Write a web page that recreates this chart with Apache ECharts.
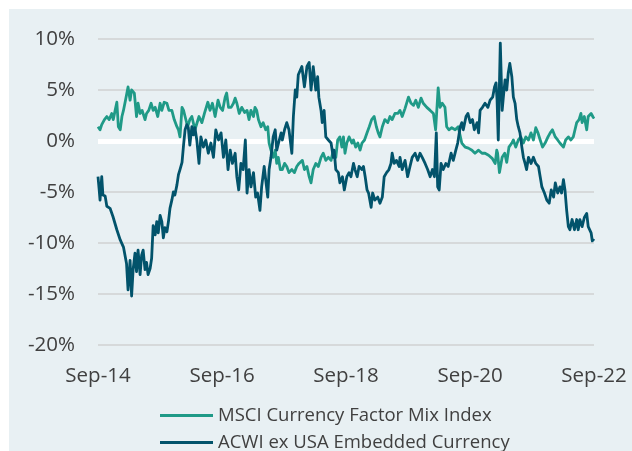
<!DOCTYPE html>
<html>
<head>
<meta charset="utf-8">
<script src="https://cdn.jsdelivr.net/npm/echarts@6/dist/echarts.min.js"></script>
<style>
  html, body { margin: 0; padding: 0; background: #ffffff; }
  #panel { position: absolute; left: 9px; top: 9px; width: 623px; height: 442px; background: #e8f0f3; }
  #chart { position: absolute; left: 0; top: 0; width: 632px; height: 451px; }
</style>
</head>
<body>
<div id="panel"></div>
<div id="chart"></div>
<script>
// Series names shown in the legend
const seriesNames = ['MSCI Currency Factor Mix Index', 'ACWI ex USA Embedded Currency'];

// Cumulative relative performance, % — [date, value]
const factorMix = [
  ['2014-09-30', 1.4], ['2014-10-12', 1.1], ['2014-10-22', 1.6], ['2014-11-07', 2.1], ['2014-11-21', 2.4],
  ['2014-12-05', 2.1], ['2014-12-20', 2.7], ['2014-12-29', 2.1], ['2015-01-09', 3.0], ['2015-01-19', 3.8],
  ['2015-01-28', 1.4], ['2015-02-08', 1.1], ['2015-02-18', 2.4], ['2015-02-27', 3.0], ['2015-03-11', 4.0],
  ['2015-03-26', 5.3], ['2015-04-07', 4.0], ['2015-04-16', 5.0], ['2015-05-02', 4.7], ['2015-05-15', 2.4],
  ['2015-05-24', 3.7], ['2015-06-05', 2.7], ['2015-06-17', 3.0], ['2015-07-04', 2.1], ['2015-07-13', 2.7],
  ['2015-07-26', 3.0], ['2015-08-09', 3.7], ['2015-08-21', 3.0], ['2015-09-02', 3.3], ['2015-09-17', 2.4],
  ['2015-10-01', 3.7], ['2015-10-11', 3.0], ['2015-10-25', 3.8], ['2015-11-10', 3.7], ['2015-11-22', 3.0],
  ['2015-12-09', 3.0], ['2015-12-23', 2.1], ['2016-01-08', 1.4], ['2016-01-17', 1.1], ['2016-01-26', 0.4],
  ['2016-02-07', 3.3], ['2016-02-16', 3.0], ['2016-02-25', 2.4], ['2016-03-11', 1.4], ['2016-03-24', 2.1],
  ['2016-04-05', 2.4], ['2016-04-23', 1.1], ['2016-05-17', 2.4], ['2016-06-03', 1.8], ['2016-06-18', 2.7],
  ['2016-07-08', 3.8], ['2016-07-21', 3.0], ['2016-08-04', 3.7], ['2016-08-20', 2.4], ['2016-09-06', 4.0],
  ['2016-09-19', 3.3], ['2016-10-03', 3.0], ['2016-10-18', 4.3], ['2016-10-27', 4.7], ['2016-11-07', 3.3],
  ['2016-11-22', 3.3], ['2016-12-06', 3.7], ['2016-12-16', 4.2], ['2016-12-26', 3.7], ['2017-01-09', 2.7],
  ['2017-01-24', 3.3], ['2017-02-10', 2.8], ['2017-02-24', 3.0], ['2017-03-08', 2.1], ['2017-03-19', 3.0],
  ['2017-04-03', 2.4], ['2017-04-12', 3.3], ['2017-04-22', 3.0], ['2017-05-02', 2.1], ['2017-05-17', 1.4],
  ['2017-05-30', 1.8], ['2017-06-14', 1.1], ['2017-06-26', 1.4], ['2017-07-04', -0.2], ['2017-07-15', -0.9],
  ['2017-07-28', -1.6], ['2017-08-09', -0.9], ['2017-08-18', -2.2], ['2017-08-27', -1.6], ['2017-09-08', -2.8],
  ['2017-09-20', -2.8], ['2017-10-03', -2.2], ['2017-10-16', -2.5], ['2017-10-29', -3.1], ['2017-11-15', -2.8],
  ['2017-11-30', -3.1], ['2017-12-14', -2.5], ['2017-12-27', -2.2], ['2018-01-16', -1.9], ['2018-01-28', -2.8],
  ['2018-02-12', -2.5], ['2018-02-25', -3.5], ['2018-03-08', -4.1], ['2018-03-21', -2.8], ['2018-04-05', -2.2],
  ['2018-04-20', -2.5], ['2018-05-06', -1.6], ['2018-05-19', -1.2], ['2018-06-03', -1.9], ['2018-06-18', -1.6],
  ['2018-07-04', -1.9], ['2018-07-17', -0.9], ['2018-08-01', -1.6], ['2018-08-12', 0.1], ['2018-08-25', 0.4],
  ['2018-09-06', -0.6], ['2018-09-15', 0.4], ['2018-09-24', -1.2], ['2018-10-05', -0.2], ['2018-10-18', 0.4],
  ['2018-11-04', -0.2], ['2018-11-13', 0.1], ['2018-11-26', -0.6], ['2018-12-09', -0.2], ['2018-12-22', -0.9],
  ['2019-01-02', -0.2], ['2019-01-17', 0.1], ['2019-02-01', 0.8], ['2019-02-14', 1.4], ['2019-02-28', 2.1],
  ['2019-03-15', 2.4], ['2019-03-28', 1.4], ['2019-04-08', 0.8], ['2019-04-18', 0.4], ['2019-05-02', 1.4],
  ['2019-05-17', 2.1], ['2019-06-03', 1.8], ['2019-06-16', 2.4], ['2019-06-29', 2.1], ['2019-07-15', 2.7],
  ['2019-08-01', 2.7], ['2019-08-14', 3.0], ['2019-08-27', 2.4], ['2019-09-13', 3.2], ['2019-10-03', 4.3],
  ['2019-10-18', 3.7], ['2019-11-02', 3.5], ['2019-11-15', 4.0], ['2019-11-30', 3.3], ['2019-12-16', 4.2],
  ['2019-12-29', 3.7], ['2020-01-19', 3.3], ['2020-02-08', 3.0], ['2020-02-27', 2.7], ['2020-03-11', 1.1],
  ['2020-03-26', 5.2], ['2020-04-06', 3.3], ['2020-04-19', 3.7], ['2020-05-05', 3.3], ['2020-05-15', 1.4],
  ['2020-05-28', 1.1], ['2020-06-14', 1.3], ['2020-07-04', 1.1], ['2020-07-22', 1.4], ['2020-08-12', -0.2],
  ['2020-09-01', -0.6], ['2020-09-20', -0.7], ['2020-10-11', -0.9], ['2020-10-29', -1.2], ['2020-11-19', -0.9],
  ['2020-12-09', -1.2], ['2020-12-27', -1.2], ['2021-01-17', -1.4], ['2021-02-07', -1.7], ['2021-02-25', -2.2],
  ['2021-03-06', -0.9], ['2021-03-11', -1.2], ['2021-03-22', -3.1], ['2021-04-07', -1.6], ['2021-04-22', -1.2],
  ['2021-05-04', -2.1], ['2021-05-17', -0.6], ['2021-06-03', -0.2], ['2021-06-12', 0.1], ['2021-06-26', -0.6],
  ['2021-07-11', 0.1], ['2021-07-26', 0.4], ['2021-08-10', -0.2], ['2021-08-24', 0.4], ['2021-09-09', 0.1],
  ['2021-09-24', 0.8], ['2021-10-08', 0.1], ['2021-10-22', 1.3], ['2021-11-04', 0.8], ['2021-11-17', 0.1],
  ['2021-12-01', -0.6], ['2021-12-16', -0.2], ['2022-01-02', 0.4], ['2022-01-15', 0.8], ['2022-01-28', 1.1],
  ['2022-02-14', 0.4], ['2022-02-28', 0.1], ['2022-03-13', -0.2], ['2022-04-03', -0.6], ['2022-04-16', 0.1],
  ['2022-05-02', 0.4], ['2022-05-17', 0.1], ['2022-05-31', 0.4], ['2022-06-10', 1.1], ['2022-06-20', 1.8],
  ['2022-07-04', 2.1], ['2022-07-15', 2.7], ['2022-07-22', 1.8], ['2022-08-04', 2.4], ['2022-08-18', 1.1],
  ['2022-08-27', 2.4], ['2022-09-13', 2.7], ['2022-09-26', 2.3], ['2022-09-30', 2.4]
];

const embeddedCurrency = [
  ['2014-09-30', -3.5], ['2014-10-07', -4.8], ['2014-10-12', -5.8], ['2014-10-22', -3.5], ['2014-10-29', -5.3],
  ['2014-11-11', -5.4], ['2014-11-21', -6.4], ['2014-12-10', -6.6], ['2014-12-27', -7.4], ['2015-01-19', -8.7],
  ['2015-02-08', -9.7], ['2015-02-27', -10.4], ['2015-03-17', -12.0], ['2015-03-26', -14.6], ['2015-04-07', -11.7],
  ['2015-04-16', -15.2], ['2015-04-25', -12.6], ['2015-05-06', -11.0], ['2015-05-15', -12.8], ['2015-05-24', -10.7],
  ['2015-06-05', -13.1], ['2015-06-14', -11.2], ['2015-06-23', -10.7], ['2015-07-04', -12.6], ['2015-07-13', -11.9],
  ['2015-07-22', -13.1], ['2015-08-03', -12.5], ['2015-08-12', -11.5], ['2015-08-21', -8.3], ['2015-09-02', -9.2],
  ['2015-09-11', -7.9], ['2015-09-20', -9.0], ['2015-10-01', -7.3], ['2015-10-11', -7.9], ['2015-10-20', -9.5],
  ['2015-10-29', -8.5], ['2015-11-10', -8.9], ['2015-11-19', -7.9], ['2015-11-28', -6.6], ['2015-12-09', -5.8],
  ['2015-12-18', -5.0], ['2015-12-27', -5.3], ['2016-01-08', -4.3], ['2016-01-17', -3.3], ['2016-01-26', -2.8],
  ['2016-02-07', -2.1], ['2016-02-16', -0.4], ['2016-02-25', 1.1], ['2016-03-06', 1.6], ['2016-03-15', 1.3],
  ['2016-03-24', -0.4], ['2016-04-05', 1.4], ['2016-04-14', 0.6], ['2016-04-23', 1.3], ['2016-05-04', 0.1],
  ['2016-05-17', -2.2], ['2016-05-28', 0.4], ['2016-06-12', -0.6], ['2016-06-26', 0.1], ['2016-07-11', -1.2],
  ['2016-07-26', -0.2], ['2016-08-10', -1.6], ['2016-08-24', 1.1], ['2016-09-09', 0.1], ['2016-09-24', 0.8],
  ['2016-10-08', -1.6], ['2016-10-22', 0.1], ['2016-11-04', -2.8], ['2016-11-17', -0.9], ['2016-11-30', -2.2],
  ['2016-12-16', -1.2], ['2016-12-26', -3.5], ['2017-01-06', -4.8], ['2017-01-19', -2.2], ['2017-02-01', -2.8],
  ['2017-02-14', 0.1], ['2017-02-24', -5.1], ['2017-03-08', -2.8], ['2017-03-19', -4.5], ['2017-04-03', -3.1],
  ['2017-04-16', -5.5], ['2017-04-27', -5.1], ['2017-05-11', -6.8], ['2017-05-21', -4.5], ['2017-06-05', -2.5],
  ['2017-06-14', -3.8], ['2017-06-26', -5.5], ['2017-07-04', -2.8], ['2017-07-15', -1.6], ['2017-07-28', 0.4],
  ['2017-08-09', 1.1], ['2017-08-18', -0.9], ['2017-09-02', 0.1], ['2017-09-13', 0.8], ['2017-09-20', 0.1],
  ['2017-10-03', 1.1], ['2017-10-16', 1.8], ['2017-10-29', 1.1], ['2017-11-15', -1.2], ['2017-11-24', 2.4],
  ['2017-12-05', 5.0], ['2017-12-14', 4.3], ['2017-12-23', 6.5], ['2018-01-13', 7.3], ['2018-01-28', 5.3],
  ['2018-02-12', 7.3], ['2018-02-25', 7.7], ['2018-03-08', 5.0], ['2018-03-21', 7.3], ['2018-04-05', 5.0],
  ['2018-04-16', 6.3], ['2018-04-23', 4.3], ['2018-05-06', 3.0], ['2018-05-13', 1.8], ['2018-05-24', 3.0],
  ['2018-06-03', 0.4], ['2018-06-18', 0.1], ['2018-07-04', -0.2], ['2018-07-17', -1.6], ['2018-07-22', -0.9],
  ['2018-08-01', -2.8], ['2018-08-16', -3.1], ['2018-08-25', -4.1], ['2018-09-09', -3.5], ['2018-09-20', -4.8],
  ['2018-10-05', -3.5], ['2018-10-18', -3.1], ['2018-10-29', -3.5], ['2018-11-13', -2.2], ['2018-11-22', -2.8],
  ['2018-12-05', -3.5], ['2018-12-16', -2.5], ['2019-01-02', -2.8], ['2019-01-11', -2.5], ['2019-01-21', -3.5],
  ['2019-02-01', -4.8], ['2019-02-10', -5.1], ['2019-02-25', -6.5], ['2019-03-06', -5.1], ['2019-03-19', -5.8],
  ['2019-04-05', -5.5], ['2019-04-18', -6.1], ['2019-05-02', -5.5], ['2019-05-13', -3.5], ['2019-05-27', -3.1],
  ['2019-06-10', -2.8], ['2019-06-22', -2.2], ['2019-06-29', -1.2], ['2019-07-11', -2.2], ['2019-07-24', -1.9],
  ['2019-08-09', -2.5], ['2019-08-14', -1.6], ['2019-08-27', -2.8], ['2019-09-13', -1.9], ['2019-09-28', -3.5],
  ['2019-10-12', -2.5], ['2019-10-25', -1.6], ['2019-11-11', -1.2], ['2019-11-26', -1.9], ['2019-12-10', -1.2],
  ['2019-12-23', -1.6], ['2020-01-09', -2.2], ['2020-01-24', -2.8], ['2020-02-08', -3.5], ['2020-02-21', -2.8],
  ['2020-03-04', -3.5], ['2020-03-15', 0.8], ['2020-03-23', -4.5], ['2020-04-01', -4.8], ['2020-04-12', -2.2],
  ['2020-04-25', -2.8], ['2020-05-10', -2.2], ['2020-05-24', -2.5], ['2020-06-10', -1.2], ['2020-06-23', -1.9],
  ['2020-07-08', -0.9], ['2020-07-19', -0.2], ['2020-08-03', 1.4], ['2020-08-12', 1.8], ['2020-08-21', 1.1],
  ['2020-09-06', 2.4], ['2020-09-17', 2.7], ['2020-10-01', 1.8], ['2020-10-14', 2.1], ['2020-10-25', 1.1],
  ['2020-11-10', 1.8], ['2020-11-19', 0.8], ['2020-11-28', 3.0], ['2020-12-12', 3.3], ['2020-12-27', 3.7],
  ['2021-01-13', 3.3], ['2021-01-26', 4.0], ['2021-02-10', 4.3], ['2021-02-21', 5.3], ['2021-03-02', 5.7],
  ['2021-03-08', 4.0], ['2021-03-15', 0.1], ['2021-03-27', 9.6], ['2021-04-07', 3.0], ['2021-04-14', 4.3],
  ['2021-04-24', 6.0], ['2021-05-04', 5.0], ['2021-05-13', 6.7], ['2021-05-22', 7.6], ['2021-06-03', 6.3],
  ['2021-06-12', 4.3], ['2021-06-22', 3.7], ['2021-07-02', 2.1], ['2021-07-11', 1.4], ['2021-07-21', 0.8],
  ['2021-08-01', -0.6], ['2021-08-10', -1.6], ['2021-08-20', -2.2], ['2021-08-29', -2.8], ['2021-09-09', -1.6],
  ['2021-09-24', -2.2], ['2021-10-08', -1.6], ['2021-10-22', -2.2], ['2021-11-07', -2.5], ['2021-11-17', -3.5],
  ['2021-11-27', -4.5], ['2021-12-12', -5.1], ['2021-12-26', -5.8], ['2022-01-09', -6.1], ['2022-01-21', -4.8],
  ['2022-02-04', -5.5], ['2022-02-14', -4.1], ['2022-02-28', -5.1], ['2022-03-13', -4.5], ['2022-03-23', -5.1],
  ['2022-04-03', -3.8], ['2022-04-12', -4.8], ['2022-04-22', -6.8], ['2022-05-02', -8.4], ['2022-05-11', -8.7],
  ['2022-05-24', -7.7], ['2022-06-07', -8.7], ['2022-06-20', -7.7], ['2022-06-29', -8.7], ['2022-07-09', -7.7],
  ['2022-07-22', -8.4], ['2022-08-04', -7.5], ['2022-08-18', -7.1], ['2022-08-27', -8.4], ['2022-09-13', -9.0],
  ['2022-09-20', -9.8], ['2022-09-30', -9.6]
];

// Date axis: range and labelled dates
const dateRange = ['2014-09-30', '2022-09-30'];
const tickDates = ['2014-09-30', '2016-09-30', '2018-09-30', '2020-09-30', '2022-09-30'];
const tickLabels = ['Sep-14', 'Sep-16', 'Sep-18', 'Sep-20', 'Sep-22'];

// Value axis ticks (%)
const valueTicks = [-20, -15, -10, -5, 0, 5, 10];

function toTime(s) {
  const p = s.split('-').map(Number);
  return Date.UTC(p[0], p[1] - 1, p[2]);
}
const asPoints = rows => rows.map(r => [toTime(r[0]), r[1]]);

const tickTimes = tickDates.map(toTime);
function dateLabel(v) {
  let best = 0;
  tickTimes.forEach((t, i) => { if (Math.abs(t - v) < Math.abs(tickTimes[best] - v)) best = i; });
  return tickLabels[best];
}

const FONT = '"Open Sans", Lato, sans-serif';
const TEXT = '#404040';
const COLORS = ['#1f9a87', '#02536b'];

function legendFor(i, top) {
  return {
    left: 155,
    top: top,
    itemWidth: 53,
    itemHeight: 3,
    itemGap: 0,
    icon: 'rect',
    selectedMode: false,
    textStyle: { fontFamily: FONT, fontSize: 18.5, color: TEXT },
    data: [seriesNames[i]]
  };
}

const chart = echarts.init(document.getElementById('chart'), null, { renderer: 'canvas' });

chart.setOption({
  animation: false,
  backgroundColor: 'transparent',
  textStyle: { fontFamily: FONT },
  grid: { left: 98, right: 38, top: 39, bottom: 106, containLabel: false },
  legend: [legendFor(0, 401), legendFor(1, 428)],
  xAxis: {
    type: 'value',
    min: toTime(dateRange[0]),
    max: toTime(dateRange[1]),
    axisLine: { show: false },
    axisTick: { show: false },
    splitLine: { show: false },
    axisLabel: {
      customValues: tickTimes,
      formatter: v => dateLabel(v),
      fontFamily: FONT,
      fontSize: 20.5,
      color: TEXT,
      margin: 21,
      showMinLabel: true,
      showMaxLabel: true
    }
  },
  yAxis: {
    type: 'value',
    min: valueTicks[0],
    max: valueTicks[valueTicks.length - 1],
    interval: 5,
    axisLine: { show: false },
    axisTick: { show: false },
    splitLine: { lineStyle: { color: '#d6d9da', width: 2 } },
    axisLabel: {
      formatter: v => v + '%',
      fontFamily: FONT,
      fontSize: 20.5,
      color: TEXT,
      margin: 23
    }
  },
  series: [
    {
      name: seriesNames[0],
      type: 'line',
      data: asPoints(factorMix),
      showSymbol: false,
      symbol: 'none',
      color: COLORS[0],
      lineStyle: { width: 2.8, color: COLORS[0], join: 'round' },
      z: 3,
      markLine: {
        silent: true,
        symbol: 'none',
        z: 1,
        label: { show: false },
        lineStyle: { color: '#ffffff', width: 5, type: 'solid' },
        data: [{ yAxis: 0 }]
      }
    },
    {
      name: seriesNames[1],
      type: 'line',
      data: asPoints(embeddedCurrency),
      showSymbol: false,
      symbol: 'none',
      color: COLORS[1],
      lineStyle: { width: 2.8, color: COLORS[1], join: 'round' },
      z: 4
    }
  ]
});
</script>
</body>
</html>
